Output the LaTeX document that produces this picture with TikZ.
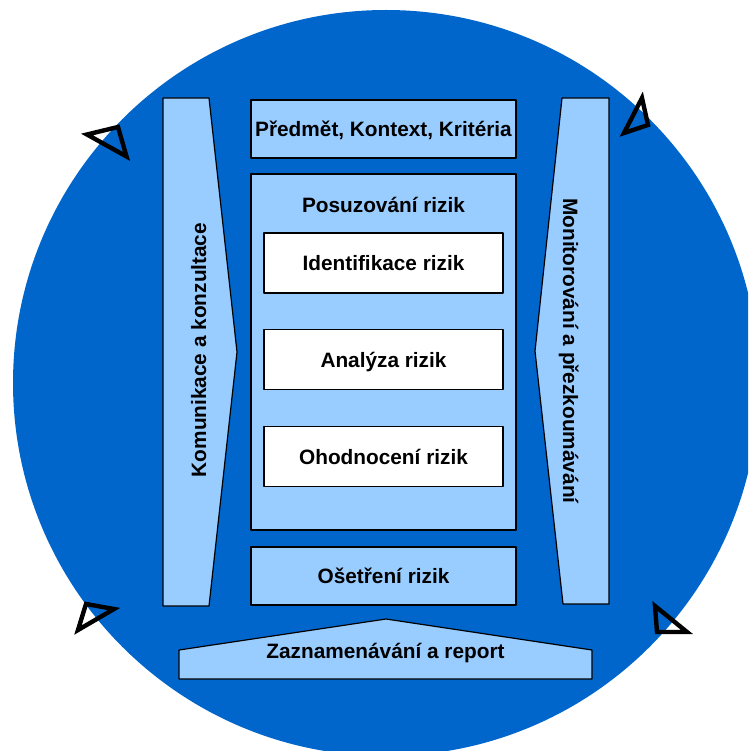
\documentclass[tikz,border=0pt]{standalone}
\usepackage{fontspec}
\setmainfont{Liberation Sans}
\definecolor{kruh}{HTML}{0066CC}
\definecolor{svetla}{HTML}{99CCFF}
\begin{document}
\begin{tikzpicture}[x=1pt,y=-1pt, font=\fontsize{20.8}{25}\selectfont\bfseries, line join=round,
		blok/.style={draw=black, line width=1.2pt, fill=svetla, text height=15pt, text depth=0pt, inner sep=0pt},
		krok/.style={blok, fill=white, minimum width=239pt, minimum height=60pt},
		popis/.style={anchor=base, inner sep=0pt},
		sipka/.style={draw=black, line width=4.4pt, line join=miter}]
	\useasboundingbox (0,0) rectangle (748,751);
	\clip (0,0) rectangle (748,751);
	\fill[kruh] (386,383) circle (373pt);
	\draw[sipka] (87,134.5)--(118,127)--(126.5,156.5)--cycle;
	\draw[sipka] (642,98)--(648,125)--(624,133)--cycle;
	\draw[sipka] (86,604)--(114,609)--(78,630)--cycle;
	\draw[sipka] (655,606)--(687,632)--(657,632)--cycle;
	\filldraw[blok] (163,98)--(209,98)--(237,352)--(209,606)--(163,606)--cycle;
	\node[popis, rotate=90] (komunikace) at (206,350) {Komunikace a konzultace};
	\filldraw[blok] (562,98)--(609,98)--(609,604)--(563,604)--(535,351)--cycle;
	\node[popis, rotate=-90] (monitorovani) at (563,351) {Monitorování a přezkoumávání};
	\node[blok, minimum width=265pt, minimum height=58pt] (kontext) at (383.5,129) {Předmět, Kontext, Kritéria};
	\node[blok, minimum width=265pt, minimum height=356pt] (posuzovani) at (383.5,352) {};
	\node[popis] (posuzovanitext) at (383.5,212) {Posuzování rizik};
	\node[krok] (identifikace) at (383.5,263) {Identifikace rizik};
	\node[krok] (analyza) at (383.5,359.5) {Analýza rizik};
	\node[krok] (ohodnoceni) at (383.5,456.5) {Ohodnocení rizik};
	\node[blok, minimum width=265pt, minimum height=58pt] (osetreni) at (383.5,576) {Ošetření rizik};
	\filldraw[blok] (179,650)--(386,619)--(592,650)--(592,679)--(179,679)--cycle;
	\node[popis] (zaznam) at (385.5,658) {Zaznamenávání a report};
\end{tikzpicture}
\end{document}
